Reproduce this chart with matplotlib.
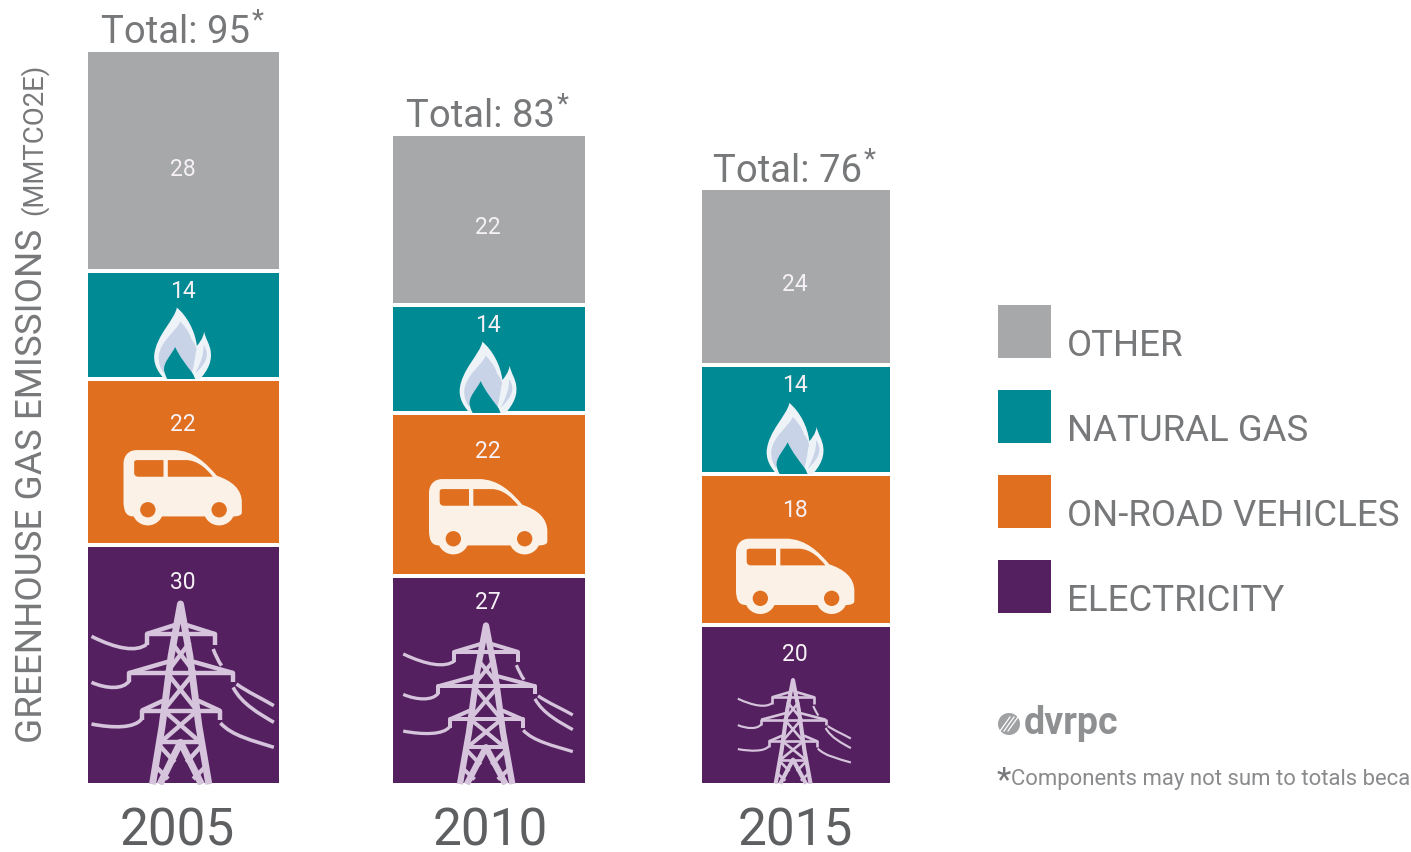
import matplotlib
matplotlib.use("Agg")
import matplotlib.pyplot as plt
from matplotlib.patches import PathPatch, Circle, Rectangle
from matplotlib.path import Path
from matplotlib.transforms import Affine2D

plt.rcParams["font.family"] = ["Roboto", "DejaVu Sans"]

years = ["2005", "2010", "2015"]
totals = [95, 83, 76]

# stacked heights, bottom to top
electricity = [31.0, 27.0, 20.6]
on_road = [21.4, 21.0, 19.5]
natural_gas = [13.9, 13.9, 14.1]
other = [28.6, 22.1, 22.8]

# numbers printed on the bars
electricity_labels = [30, 27, 20]
on_road_labels = [22, 22, 18]
natural_gas_labels = [14, 14, 14]
other_labels = [28, 22, 24]

legend_names = ["OTHER", "NATURAL GAS", "ON-ROAD VEHICLES", "ELECTRICITY"]

GREY = "#A7A8AA"
TEAL = "#008A93"
ORANGE = "#E0701F"
PURPLE = "#54205F"
TEXT = "#77787A"

W, H = 1411, 853
BASE_PX = 786
PX_PER_UNIT = 7.75

bar_x = [183.5, 489, 796]
bar_w = [195, 196, 192]
car_lift = [19, 21, 11]
tower_scale = [(1.0, 1.0), (0.93, 0.88), (0.62, 0.575)]
label_drop = [
    [37, 45, 19, 119],
    [26, 38, 19, 92],
    [28, 35, 20, 95],
]


def place(ax, x, y, sx, sy, zx, zy):
    """icons are sketched in 3x zoom pixels, this puts them on the chart"""
    return (Affine2D().translate(-zx, -zy).scale(sx / 3, -sy / (3 * PX_PER_UNIT))
            .translate(x, y) + ax.transData)


def smooth(points):
    # points: start, then groups of control, control, end
    codes = [Path.MOVETO] + [Path.CURVE4] * (len(points) - 1)
    return Path(points, codes)


def draw_car(ax, x, y, clip):
    tf = place(ax, x, y, 1, 1, 307, 775)
    body = [(130, 700), (130, 610), (130, 610), (130, 590), (130, 565), (145, 548), (170, 548),
            (170, 548), (280, 548), (280, 548), (340, 548), (380, 590), (410, 625),
            (455, 640), (485, 665), (485, 705), (485, 720), (485, 735), (485, 735),
            (485, 745), (470, 747), (460, 747), (400, 747), (260, 747), (160, 747),
            (140, 747), (130, 735), (130, 700)]
    win_a = [(162, 585), (162, 578), (168, 578), (175, 578), (200, 578), (225, 578), (250, 578),
             (250, 595), (250, 610), (250, 628), (225, 628), (200, 628), (175, 628),
             (165, 628), (162, 622), (162, 615), (162, 605), (162, 595), (162, 585)]
    win_b = [(263, 578), (290, 578), (305, 578), (320, 578), (355, 580), (380, 605), (398, 628),
             (350, 628), (300, 628), (263, 628), (263, 610), (263, 595), (263, 578)]
    light = "#FBF1E6"
    items = [PathPatch(smooth(body), fc=light, ec="none")]
    items += [PathPatch(smooth(win_a), fc=ORANGE, ec="none"),
              PathPatch(smooth(win_b), fc=ORANGE, ec="none")]
    for wx in (203, 417):
        items.append(Circle((wx, 727), 47, fc=light, ec="none"))
        items.append(Circle((wx, 727), 23, fc=ORANGE, ec="none"))
    for p in items:
        p.set_transform(tf)
        ax.add_patch(p)
        p.set_clip_path(clip)


def draw_flame(ax, x, y, clip):
    tf = place(ax, x, y, 1, 1, 307, 320)
    outer = [(290, 100), (285, 135), (226, 185), (222, 245), (220, 280), (245, 310), (270, 330),
             (295, 330), (320, 330), (345, 330), (375, 300), (396, 270), (392, 235),
             (390, 210), (376, 195), (372, 172), (368, 195), (358, 205), (350, 215),
             (345, 170), (320, 125), (290, 100)]
    mid = [(300, 142), (290, 170), (240, 200), (236, 245), (234, 265), (242, 285), (250, 295),
           (260, 260), (272, 245), (285, 218), (300, 250), (315, 275), (335, 296),
           (342, 270), (345, 250), (347, 232), (354, 225), (342, 205), (334, 195),
           (327, 170), (312, 155), (300, 142)]
    small = [(370, 212), (372, 240), (360, 270), (345, 298), (358, 285), (380, 265), (380, 240),
             (380, 230), (376, 220), (370, 212)]
    hole = [(285, 218), (272, 245), (248, 265), (252, 290), (255, 305), (263, 318), (270, 330),
            (295, 330), (320, 330), (347, 330), (347, 315), (342, 305), (335, 294),
            (318, 272), (300, 250), (285, 218)]
    for pts, col in [(outer, "#EEF3F8"), (mid, "#C9D3E8"), (small, "#C9D3E8"), (hole, TEAL)]:
        p = PathPatch(smooth(pts), fc=col, ec="none", transform=tf)
        ax.add_patch(p)
        p.set_clip_path(clip)


def draw_tower(ax, x, y, sx, sy, clip):
    tf = place(ax, x, y, sx, sy, 302, 712)
    col = "#D5C4DC"
    # steel, thick strokes
    thick = [
        [(218, 716), (247, 540), (274, 330), (302, 175), (330, 330), (357, 540), (387, 716)],
        [(240, 716), (302, 590), (365, 716)],
    ]
    thin = [
        [(200, 298), (200, 265), (405, 265), (405, 298)],
        [(200, 265), (285, 238)], [(405, 265), (320, 238)],
        [(148, 410), (148, 382), (460, 382), (460, 410)],
        [(148, 382), (265, 348)], [(460, 382), (340, 348)],
        [(185, 524), (185, 495), (420, 495), (420, 524)],
        [(185, 495), (250, 465)], [(420, 495), (355, 465)],
        [(275, 290), (345, 382)], [(330, 290), (260, 382)],
        [(262, 382), (352, 495)], [(342, 382), (250, 495)],
        [(252, 495), (362, 590)], [(352, 495), (242, 590)],
        [(242, 590), (362, 590)],
        [(235, 595), (285, 650)], [(370, 595), (320, 650)],
        [(225, 660), (265, 700)], [(380, 660), (340, 700)],
    ]
    wires = [
        [(35, 272), (110, 310), (170, 320), (200, 296)],
        [(35, 410), (80, 430), (130, 432), (148, 406)],
        [(35, 535), (100, 548), (165, 548), (185, 520)],
        [(400, 310), (408, 330), (415, 345), (425, 360)],
        [(470, 415), (505, 440), (545, 458), (582, 480)],
        [(460, 425), (485, 475), (540, 505), (582, 530)],
        [(422, 532), (455, 570), (520, 585), (582, 605)],
    ]
    for group, lw in [(thick, 5.0), (thin, 3.2)]:
        for line in group:
            p = ax.plot(*zip(*line), color=col, lw=lw * (sx + sy) / 2, transform=tf,
                        solid_capstyle="butt", solid_joinstyle="round")[0]
            p.set_clip_path(clip)
    for line in wires:
        p = PathPatch(smooth(line), fc="none", ec=col, lw=2.6 * (sx + sy) / 2, transform=tf)
        ax.add_patch(p)
        p.set_clip_path(clip)


def main():
    fig = plt.figure(figsize=(W / 100, H / 100), dpi=100)
    ax = fig.add_axes([0, (H - BASE_PX) / H, 1, BASE_PX / H])
    ax.set_xlim(0, W)
    ax.set_ylim(0, BASE_PX / PX_PER_UNIT)
    for s in ax.spines.values():
        s.set_visible(False)
    ax.set_yticks([])
    ax.set_xticks(bar_x, years, fontsize=37, color="#5E5F61")
    ax.tick_params(axis="x", length=0, pad=15)
    for t, off in zip(ax.get_xticklabels(), (-6, 1, -1)):
        t.set_transform(t.get_transform() + Affine2D().translate(off, 0))

    series = [electricity, on_road, natural_gas, other]
    labels = [electricity_labels, on_road_labels, natural_gas_labels, other_labels]
    colors = [PURPLE, ORANGE, TEAL, GREY]

    bottoms = [0, 0, 0]
    containers = []
    for i, vals in enumerate(series):
        bars = ax.bar(bar_x, vals, bar_w, bottom=bottoms, color=colors[i],
                      edgecolor="white", linewidth=2.88)
        containers.append(bars)
        for j, b in enumerate(bars):
            top = bottoms[j] + vals[j]
            drop = label_drop[j][i]
            ax.annotate(str(labels[i][j]), (bar_x[j], top), xytext=(-0.7, -drop * 0.72),
                        textcoords="offset points", ha="center", va="center",
                        color="#F6F1F6", fontsize=16.5)
        bottoms = [b + v for b, v in zip(bottoms, vals)]

    for j in range(3):
        cx = bar_x[j]
        draw_tower(ax, cx - 3, 2 / PX_PER_UNIT, *tower_scale[j], containers[0][j])
        road_base = electricity[j]
        draw_car(ax, cx - 1, road_base + car_lift[j] / PX_PER_UNIT, containers[1][j])
        gas_base = road_base + on_road[j]
        draw_flame(ax, cx - 1, gas_base - 2 / PX_PER_UNIT, containers[2][j])

        t = ax.annotate(f"Total: {totals[j]}", (cx, bottoms[j]), xytext=(-5.8, 5.5),
                        textcoords="offset points", ha="center", va="baseline",
                        color=TEXT, fontsize=27.5)
        ax.annotate("*", xy=(1, 1), xycoords=t, xytext=(1.0, -5), textcoords="offset points",
                    ha="left", va="center", color=TEXT, fontsize=20)

    # legend, hand placed to sit like the reference
    for i, name in enumerate(legend_names):
        top_px = 306 + 85 * i
        y = (BASE_PX - top_px - 53) / PX_PER_UNIT
        ax.add_patch(Rectangle((998, y), 53, 53 / PX_PER_UNIT, fc=colors[3 - i], ec="none"))
        ax.text(1067, y + 3 / PX_PER_UNIT, name, color=TEXT, fontsize=26.4,
                ha="left", va="baseline")

    fig.text(32 / W, 1 - 743 / H, "GREENHOUSE GAS EMISSIONS", rotation=90, ha="center", va="bottom",
             color=TEXT, fontsize=26.6)
    fig.text(34 / W, 1 - 215 / H, "(MMTCO2E)", rotation=90, ha="center", va="bottom",
             color=TEXT, fontsize=19.8)

    # logo
    logo_tf = (Affine2D().scale(1, 1 / PX_PER_UNIT)
               .translate(1009, (BASE_PX - 725) / PX_PER_UNIT) + ax.transData)
    ax.add_patch(Circle((0, 0), 11, fc="#A0A1A3", ec="none", transform=logo_tf))
    for dx in (-4, 0, 4):
        ax.plot([dx - 5, dx + 5], [-7, 7], color="white", lw=0.9, transform=logo_tf)
    fig.text(1024 / W, 1 - 734 / H, "dvrpc", color="#8F9092", fontsize=27, fontweight="bold",
             ha="left", va="baseline")

    fig.text(997 / W, 1 - 790 / H, "*", color=TEXT, fontsize=24, ha="left", va="baseline")
    fig.text(1011 / W, 1 - 785 / H, "Components may not sum to totals beca", color="#8A8B8D",
             fontsize=15.9, ha="left", va="baseline")

    fig.savefig("out.png", dpi=100)


if __name__ == "__main__":
    main()
